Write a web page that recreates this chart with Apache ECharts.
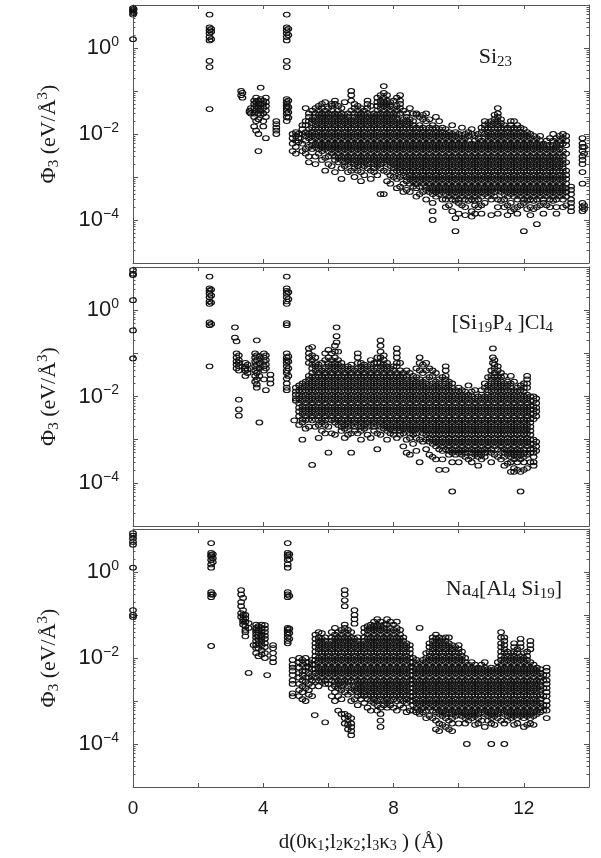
<!DOCTYPE html>
<html><head><meta charset="utf-8">
<script src="https://cdn.jsdelivr.net/npm/echarts@6/dist/echarts.min.js"></script>
<style>html,body{margin:0;padding:0;background:#fff}#c{width:601px;height:858px}</style>
</head><body><div id="c"></div>
<script>
// Each column: [d (Å), Φ3 values (eV/Å^3) ...]
const si23Cols = [
[0,8.5,7.5,7,6,1.6],[0.02,8,6.5],
[2.35,6,3,2.6,2.2,1.8,1.5,0.5,0.36,0.038],[2.4,2.8,2.4,1.6],
[3.32,0.1,0.08],[3.36,0.09,0.07],[3.58,0.035,0.032],[3.62,0.03,0.04],
[3.72,0.06,0.05,0.04,0.03,0.025,0.015],[3.78,0.07,0.055,0.045,0.035,0.02,0.012],
[3.85,0.06,0.05,0.04,0.03,0.022,0.01,0.004],[3.92,0.12,0.065,0.05,0.035,0.028],
[4.0,0.06,0.05,0.04,0.03,0.02,0.015],[4.08,0.07,0.055,0.045,0.035,0.025,0.008],
[4.4,0.02,0.017,0.014,0.012,0.01],
[4.72,6,3,2.6,2.2,1.8,1.5,0.5,0.36,0.065,0.055,0.05,0.045,0.04,0.035,0.03,0.025,0.02],
[4.77,2.8,2.0,0.06,0.042,0.032,0.024],
[4.9,0.01,0.008,0.006,0.004],[5.0,0.011,0.009,0.007,0.005,0.0035],[5.08,0.01,0.008,0.0065],
[5.2,1.6e-2,1.3e-2,1e-2,6e-3,4e-3],
[5.3,4e-2,2e-2,1.6e-2,1.1e-2,9e-3,7e-3,4.5e-3,3.5e-3],
[5.4,3e-2,2.5e-2,2e-2,1.3e-2,1e-2,8e-3,5e-3,3e-3,2.2e-3],
[5.5,3.5e-2,2.2e-2,1.8e-2,1.4e-2,1.1e-2,9e-3,7e-3,5.5e-3,4.5e-3],
[5.6,4e-2,3e-2,2.5e-2,2e-2,1.6e-2,1.3e-2,1e-2,8e-3,6e-3,5e-3,3e-3,2e-3],
[5.7,4.5e-2,3.5e-2,2.8e-2,2.2e-2,1.8e-2,1.4e-2,1.1e-2,9e-3,7e-3,5.5e-3,4.5e-3,3.5e-3],
[5.8,5e-2,4e-2,3e-2,2.5e-2,2e-2,1.6e-2,1.3e-2,1e-2,8e-3,6e-3,5e-3,4e-3,2.5e-3],
[5.9,5.5e-2,3.5e-2,2.8e-2,2.2e-2,1.8e-2,1.4e-2,1.1e-2,9e-3,7e-3,5.5e-3,4.5e-3,2.8e-3,1.4e-3],
[6.0,4e-2,3e-2,2.5e-2,2e-2,1.6e-2,1.3e-2,1e-2,8e-3,6e-3,5e-3,4e-3,3e-3,2e-3],
[6.1,5e-2,4.5e-2,3.5e-2,2.8e-2,2.2e-2,1.8e-2,1.4e-2,1.1e-2,9e-3,7e-3,5.5e-3,4.5e-3,3.5e-3,1.8e-3],
[6.2,6e-2,5e-2,3e-2,2.5e-2,2e-2,1.6e-2,1.3e-2,1e-2,8e-3,6e-3,5e-3,4e-3,3e-3,2.5e-3,1.3e-3],
[6.3,4.5e-2,3.5e-2,2.8e-2,2.2e-2,1.8e-2,1.4e-2,1.1e-2,9e-3,7e-3,5.5e-3,4.5e-3,3.5e-3,2.8e-3,2.2e-3],
[6.4,4e-2,3e-2,2.5e-2,2e-2,1.6e-2,1.3e-2,1e-2,8e-3,6e-3,5e-3,4e-3,3e-3,2.5e-3,1.6e-3,9e-4],
[6.5,5.5e-2,2.8e-2,2.2e-2,1.8e-2,1.4e-2,1.1e-2,9e-3,7e-3,5.5e-3,4.5e-3,3.5e-3,2.8e-3,2.2e-3,1.8e-3],
[6.6,3e-2,2.5e-2,2e-2,1.6e-2,1.3e-2,1e-2,8e-3,6e-3,5e-3,4e-3,3e-3,2.5e-3,2e-3,1.3e-3],
[6.7,1e-1,8e-2,6e-2,3.5e-2,2.2e-2,1.8e-2,1.4e-2,1.1e-2,9e-3,7e-3,5.5e-3,4.5e-3,3.5e-3,2.8e-3,2.2e-3,1.4e-3],
[6.8,5e-2,4e-2,3e-2,2.5e-2,2e-2,1.6e-2,1.3e-2,1e-2,8e-3,6e-3,5e-3,4e-3,3e-3,2.5e-3,2e-3,1.6e-3,1e-3],
[6.9,4.5e-2,3.5e-2,2.8e-2,2.2e-2,1.8e-2,1.4e-2,1.1e-2,9e-3,7e-3,5.5e-3,4.5e-3,3.5e-3,2.8e-3,2.2e-3,1.8e-3,1.4e-3],
[7.0,4e-2,3e-2,2.5e-2,2e-2,1.6e-2,1.3e-2,1e-2,8e-3,6e-3,5e-3,4e-3,3e-3,2.5e-3,2e-3,1.3e-3,8e-4],
[7.1,3.5e-2,2.8e-2,2.2e-2,1.8e-2,1.4e-2,1.1e-2,9e-3,7e-3,5.5e-3,4.5e-3,3.5e-3,2.8e-3,2.2e-3,1.8e-3,1.1e-3],
[7.2,6e-2,5e-2,4e-2,3e-2,2.5e-2,2e-2,1.6e-2,1.3e-2,1e-2,8e-3,6e-3,5e-3,4e-3,3e-3,2.5e-3,2e-3,1.6e-3],
[7.3,4.5e-2,2.8e-2,2.2e-2,1.8e-2,1.4e-2,1.1e-2,9e-3,7e-3,5.5e-3,4.5e-3,3.5e-3,2.8e-3,2.2e-3,1.4e-3,9e-4],
[7.4,3e-2,2.5e-2,2e-2,1.6e-2,1.3e-2,1e-2,8e-3,6e-3,5e-3,4e-3,3e-3,2.5e-3,2e-3,1.6e-3,1.3e-3],
[7.5,7e-2,5.5e-2,4.5e-2,3.5e-2,2.8e-2,2.2e-2,1.8e-2,1.4e-2,1.1e-2,9e-3,7e-3,5.5e-3,4.5e-3,3.5e-3,2.8e-3,2.2e-3,1.8e-3,1.1e-3],
[7.6,8e-2,6e-2,5e-2,4e-2,3e-2,2.5e-2,2e-2,1.6e-2,1.3e-2,1e-2,8e-3,6e-3,5e-3,4e-3,3e-3,2.5e-3,2e-3,1.6e-3,4e-4],
[7.7,1.3e-1,9e-2,7e-2,5.5e-2,4.5e-2,3.5e-2,2.8e-2,2.2e-2,1.8e-2,1.4e-2,1.1e-2,9e-3,7e-3,5.5e-3,4.5e-3,3.5e-3,2.8e-3,2.2e-3,1.4e-3,4e-4],
[7.8,8e-2,6e-2,5e-2,4e-2,3e-2,2.5e-2,2e-2,1.6e-2,1.3e-2,1e-2,8e-3,6e-3,5e-3,4e-3,3e-3,2.5e-3,2e-3,1.3e-3,8e-4],
[7.9,5.5e-2,4.5e-2,3.5e-2,2.8e-2,2.2e-2,1.8e-2,1.4e-2,1.1e-2,9e-3,7e-3,5.5e-3,4.5e-3,3.5e-3,2.8e-3,2.2e-3,1.8e-3,1.1e-3,7e-4],
[8.0,6e-2,4e-2,3e-2,2.5e-2,2e-2,1.6e-2,1.3e-2,1e-2,8e-3,6e-3,5e-3,4e-3,3e-3,2.5e-3,2e-3,1.6e-3,1.3e-3,1e-3],
[8.1,7e-2,4.5e-2,3.5e-2,2.8e-2,2.2e-2,1.8e-2,1.4e-2,1.1e-2,9e-3,7e-3,5.5e-3,4.5e-3,3.5e-3,2.8e-3,2.2e-3,1.8e-3,1.4e-3,9e-4,5.5e-4],
[8.2,8e-2,6e-2,5e-2,4e-2,3e-2,2e-2,1.6e-2,1.3e-2,1e-2,8e-3,6e-3,5e-3,4e-3,3e-3,2.5e-3,2e-3,1.6e-3,1.3e-3,1e-3,6e-4],
[8.3,3.5e-2,2.2e-2,1.8e-2,1.4e-2,1.1e-2,9e-3,7e-3,5.5e-3,4.5e-3,3.5e-3,2.8e-3,2.2e-3,1.8e-3,1.4e-3,1.1e-3,7e-4,4.5e-4],
[8.4,3e-2,2.5e-2,2e-2,1.6e-2,1.3e-2,1e-2,8e-3,6e-3,5e-3,4e-3,3e-3,2.5e-3,2e-3,1.6e-3,1.3e-3,1e-3,8e-4,5e-4],
[8.5,4e-2,2.2e-2,1.8e-2,1.4e-2,1.1e-2,9e-3,7e-3,5.5e-3,4.5e-3,3.5e-3,2.8e-3,2.2e-3,1.8e-3,1.4e-3,1.1e-3,9e-4,7e-4,4.5e-4],
[8.6,3e-2,2e-2,1.6e-2,1.3e-2,1e-2,8e-3,6e-3,5e-3,4e-3,3e-3,2.5e-3,2e-3,1.6e-3,1.3e-3,1e-3,8e-4,6e-4],
[8.7,3e-2,2.8e-2,1.4e-2,1.1e-2,9e-3,7e-3,5.5e-3,4.5e-3,3.5e-3,2.8e-3,2.2e-3,1.8e-3,1.4e-3,1.1e-3,9e-4,7e-4,5.5e-4,3.5e-4],
[8.8,2.5e-2,1.6e-2,1.3e-2,1e-2,8e-3,6e-3,5e-3,4e-3,3e-3,2.5e-3,2e-3,1.6e-3,1.3e-3,1e-3,8e-4,6e-4,4e-4],
[8.9,2.8e-2,2.2e-2,1.4e-2,1.1e-2,9e-3,7e-3,5.5e-3,4.5e-3,3.5e-3,2.8e-3,2.2e-3,1.8e-3,1.4e-3,1.1e-3,9e-4,7e-4,4.5e-4],
[9.0,3e-2,2e-2,1.3e-2,1e-2,8e-3,6e-3,5e-3,4e-3,3e-3,2.5e-3,2e-3,1.6e-3,1.3e-3,1e-3,8e-4,6e-4,5e-4,3e-4],
[9.1,2.2e-2,1.4e-2,1.1e-2,9e-3,7e-3,5.5e-3,4.5e-3,3.5e-3,2.8e-3,2.2e-3,1.8e-3,1.4e-3,1.1e-3,9e-4,7e-4,5.5e-4,4.5e-4],
[9.2,1.6e-2,1.3e-2,1e-2,8e-3,6e-3,5e-3,4e-3,3e-3,2.5e-3,2e-3,1.6e-3,1.3e-3,1e-3,8e-4,6e-4,5e-4,4e-4,2.5e-4,1.6e-4,1e-4],
[9.3,2.5e-2,1.4e-2,1.1e-2,9e-3,7e-3,5.5e-3,4.5e-3,3.5e-3,2.8e-3,2.2e-3,1.8e-3,1.4e-3,1.1e-3,9e-4,7e-4,5.5e-4,4.5e-4,3.5e-4],
[9.4,2e-2,1.3e-2,1e-2,8e-3,6e-3,5e-3,4e-3,3e-3,2.5e-3,2e-3,1.6e-3,1.3e-3,1e-3,8e-4,6e-4,5e-4,4e-4],
[9.5,1.4e-2,1.1e-2,9e-3,7e-3,5.5e-3,4.5e-3,3.5e-3,2.8e-3,2.2e-3,1.8e-3,1.4e-3,1.1e-3,9e-4,7e-4,5.5e-4,4.5e-4,3e-4],
[9.6,1.3e-2,1e-2,8e-3,6e-3,5e-3,4e-3,3e-3,2.5e-3,2e-3,1.6e-3,1.3e-3,1e-3,8e-4,6e-4,5e-4,4e-4,3e-4,2e-4],
[9.7,1.1e-2,9e-3,7e-3,5.5e-3,4.5e-3,3.5e-3,2.8e-3,2.2e-3,1.8e-3,1.4e-3,1.1e-3,9e-4,7e-4,5.5e-4,4.5e-4,3.5e-4,2.2e-4],
[9.8,1.6e-2,1e-2,8e-3,6e-3,5e-3,4e-3,3e-3,2.5e-3,2e-3,1.6e-3,1.3e-3,1e-3,8e-4,6e-4,5e-4,4e-4,3e-4,1.6e-4],
[9.9,1.1e-2,9e-3,7e-3,5.5e-3,4.5e-3,3.5e-3,2.8e-3,2.2e-3,1.8e-3,1.4e-3,1.1e-3,9e-4,7e-4,5.5e-4,4.5e-4,3.5e-4,2.8e-4,1.1e-4,5.5e-5],
[10.0,1e-2,8e-3,6e-3,5e-3,4e-3,3e-3,2.5e-3,2e-3,1.6e-3,1.3e-3,1e-3,8e-4,6e-4,5e-4,4e-4,3e-4,2.5e-4,1.4e-4],
[10.1,1.4e-2,9e-3,7e-3,5.5e-3,4.5e-3,3.5e-3,2.8e-3,2.2e-3,1.8e-3,1.4e-3,1.1e-3,9e-4,7e-4,5.5e-4,4.5e-4,3.5e-4,2.2e-4],
[10.2,1e-2,8e-3,6e-3,5e-3,4e-3,3e-3,2.5e-3,2e-3,1.6e-3,1.3e-3,1e-3,8e-4,6e-4,5e-4,4e-4,3e-4,2e-4,1.3e-4],
[10.3,1.1e-2,9e-3,7e-3,5.5e-3,4.5e-3,3.5e-3,2.8e-3,2.2e-3,1.8e-3,1.4e-3,1.1e-3,9e-4,7e-4,5.5e-4,4.5e-4,3.5e-4,2.8e-4],
[10.4,1.3e-2,1e-2,6e-3,5e-3,4e-3,3e-3,2.5e-3,2e-3,1.6e-3,1.3e-3,1e-3,8e-4,6e-4,5e-4,4e-4,3e-4,1.6e-4,1.2e-4],
[10.5,9e-3,7e-3,5.5e-3,4.5e-3,3.5e-3,2.8e-3,2.2e-3,1.8e-3,1.4e-3,1.1e-3,9e-4,7e-4,5.5e-4,4.5e-4,3.5e-4,2.8e-4,2.2e-4,1.4e-4],
[10.6,1e-2,8e-3,6e-3,5e-3,4e-3,3e-3,2.5e-3,2e-3,1.6e-3,1.3e-3,1e-3,8e-4,6e-4,5e-4,4e-4,3e-4,2e-4],
[10.7,1.4e-2,1.1e-2,7e-3,5.5e-3,4.5e-3,3.5e-3,2.8e-3,2.2e-3,1.8e-3,1.4e-3,1.1e-3,9e-4,7e-4,5.5e-4,4.5e-4,3.5e-4,2.2e-4,1.4e-4],
[10.8,2e-2,1.6e-2,1.3e-2,1e-2,8e-3,6e-3,5e-3,4e-3,3e-3,2.5e-3,2e-3,1.6e-3,1.3e-3,1e-3,8e-4,6e-4,5e-4,4e-4,2.5e-4],
[10.9,1.8e-2,1.4e-2,1.1e-2,9e-3,7e-3,5.5e-3,4.5e-3,3.5e-3,2.8e-3,2.2e-3,1.8e-3,1.4e-3,1.1e-3,9e-4,7e-4,5.5e-4,4.5e-4,3.5e-4],
[11.0,2e-2,1.6e-2,1.3e-2,1e-2,8e-3,6e-3,5e-3,4e-3,3e-3,2.5e-3,2e-3,1.6e-3,1.3e-3,1e-3,8e-4,6e-4,5e-4,4e-4,3e-4,1.3e-4],
[11.1,2.8e-2,2.2e-2,1.8e-2,1.4e-2,1.1e-2,9e-3,7e-3,5.5e-3,4.5e-3,3.5e-3,2.8e-3,2.2e-3,1.8e-3,1.4e-3,1.1e-3,9e-4,7e-4,5.5e-4,4.5e-4,3.5e-4],
[11.2,4e-2,3e-2,2.5e-2,2e-2,1.6e-2,1.3e-2,1e-2,8e-3,6e-3,5e-3,4e-3,3e-3,2.5e-3,2e-3,1.6e-3,1.3e-3,1e-3,8e-4,6e-4,5e-4,3e-4,2e-4,1.4e-4],
[11.3,2.2e-2,1.8e-2,1.4e-2,1.1e-2,9e-3,7e-3,5.5e-3,4.5e-3,3.5e-3,2.8e-3,2.2e-3,1.8e-3,1.4e-3,1.1e-3,9e-4,7e-4,5.5e-4,4.5e-4,2.8e-4],
[11.4,1.6e-2,1.3e-2,1e-2,8e-3,6e-3,5e-3,4e-3,3e-3,2.5e-3,2e-3,1.6e-3,1.3e-3,1e-3,8e-4,6e-4,5e-4,4e-4,3e-4,2e-4],
[11.5,1.4e-2,1.1e-2,9e-3,7e-3,5.5e-3,4.5e-3,3.5e-3,2.8e-3,2.2e-3,1.8e-3,1.4e-3,1.1e-3,9e-4,7e-4,5.5e-4,4.5e-4,3.5e-4,2.2e-4,1.3e-4],
[11.6,2e-2,1.6e-2,1.3e-2,1e-2,8e-3,6e-3,5e-3,4e-3,3e-3,2.5e-3,2e-3,1.6e-3,1.3e-3,1e-3,8e-4,6e-4,5e-4,4e-4,2.5e-4,1.6e-4],
[11.7,2e-2,1.4e-2,1.1e-2,9e-3,7e-3,5.5e-3,4.5e-3,3.5e-3,2.8e-3,2.2e-3,1.8e-3,1.4e-3,1.1e-3,9e-4,7e-4,5.5e-4,4.5e-4,3.5e-4,1.8e-4],
[11.8,1.6e-2,1.3e-2,1e-2,8e-3,6e-3,5e-3,4e-3,3e-3,2.5e-3,2e-3,1.6e-3,1.3e-3,1e-3,8e-4,6e-4,5e-4,4e-4,3e-4,2e-4,1.4e-4],
[11.9,1.4e-2,1.1e-2,9e-3,7e-3,5.5e-3,4.5e-3,3.5e-3,2.8e-3,2.2e-3,1.8e-3,1.4e-3,1.1e-3,9e-4,7e-4,5.5e-4,4.5e-4,3.5e-4,2.2e-4],
[12.0,1.3e-2,1e-2,8e-3,6e-3,5e-3,4e-3,3e-3,2.5e-3,2e-3,1.6e-3,1.3e-3,1e-3,8e-4,6e-4,5e-4,4e-4,3e-4,2.5e-4,5.5e-5],
[12.1,1.1e-2,9e-3,7e-3,5.5e-3,4.5e-3,3.5e-3,2.8e-3,2.2e-3,1.8e-3,1.4e-3,1.1e-3,9e-4,7e-4,5.5e-4,4.5e-4,3.5e-4,2.8e-4,1.8e-4],
[12.2,1e-2,8e-3,6e-3,5e-3,4e-3,3e-3,2.5e-3,2e-3,1.6e-3,1.3e-3,1e-3,8e-4,6e-4,5e-4,4e-4,3e-4,2e-4,1.3e-4],
[12.3,9e-3,7e-3,5.5e-3,4.5e-3,3.5e-3,2.8e-3,2.2e-3,1.8e-3,1.4e-3,1.1e-3,9e-4,7e-4,5.5e-4,4.5e-4,3.5e-4,2.8e-4,1.8e-4],
[12.4,8e-3,6e-3,5e-3,4e-3,3e-3,2.5e-3,2e-3,1.6e-3,1.3e-3,1e-3,8e-4,6e-4,5e-4,4e-4,3e-4,2e-4,8e-5],
[12.5,9e-3,7e-3,5.5e-3,4.5e-3,3.5e-3,2.8e-3,2.2e-3,1.8e-3,1.4e-3,1.1e-3,9e-4,7e-4,5.5e-4,4.5e-4,3.5e-4,2.2e-4],
[12.6,6e-3,5e-3,4e-3,3e-3,2.5e-3,2e-3,1.6e-3,1.3e-3,1e-3,8e-4,6e-4,5e-4,4e-4,3e-4,2.5e-4,1.4e-4],
[12.7,7e-3,5.5e-3,4.5e-3,3.5e-3,2.8e-3,2.2e-3,1.8e-3,1.4e-3,1.1e-3,9e-4,7e-4,5.5e-4,4.5e-4,3.5e-4,2.2e-4],
[12.8,8e-3,5e-3,4e-3,3e-3,2.5e-3,2e-3,1.6e-3,1.3e-3,1e-3,8e-4,6e-4,5e-4,4e-4,3e-4,2e-4],
[12.9,1e-2,7e-3,5.5e-3,4.5e-3,3.5e-3,2.8e-3,2.2e-3,1.8e-3,1.4e-3,1.1e-3,9e-4,7e-4,5.5e-4,4.5e-4,3.5e-4,2.8e-4],
[13.0,8e-3,6e-3,5e-3,4e-3,3e-3,2.5e-3,2e-3,1.6e-3,1.3e-3,1e-3,8e-4,6e-4,5e-4,4e-4,3e-4,2e-4,1.4e-4],
[13.1,9e-3,7e-3,5.5e-3,4.5e-3,3.5e-3,2.8e-3,2.2e-3,1.8e-3,1.4e-3,1.1e-3,9e-4,7e-4,5.5e-4,4.5e-4,3.5e-4],
[13.2,1e-2,8e-3,6e-3,4e-3,3e-3,2.5e-3,2e-3,1.6e-3,1.3e-3,1e-3,8e-4,6e-4,5e-4,4e-4,3e-4,2e-4],
[13.3,9e-3,7e-3,5.5e-3,3.5e-3,2.2e-3,1.4e-3,1.1e-3,9e-4,7e-4,5.5e-4,4.5e-4,3.5e-4,2.2e-4],
[13.45,6e-4,5e-4,4e-4,3e-4,2.5e-4,2e-4,1.6e-4],
[13.8,8e-3,6e-3,5e-3,4e-3,3e-3,2.5e-3,2e-3,1.3e-3,7e-4,2.5e-4,2e-4,1.6e-4],
[13.85,5e-3,3.5e-3,2.2e-4,1.8e-4]
];

const si19p4Cols = [
[0,8.5,7,6.5,1.7,0.34,0.076],
[2.35,6,3.2,2.8,2.4,2,1.6,1.4,0.52,0.45,0.05],[2.4,3,2.2,1.5,0.48],
[3.13,0.4,0.23],[3.18,0.19,0.1,0.08,0.065,0.055,0.045],
[3.25,0.09,0.07,0.06,0.05,0.04,0.0085,0.005,0.0036],
[3.45,0.06,0.05,0.045,0.04,0.03],[3.52,0.055,0.042,0.035],
[3.75,0.1,0.08,0.065,0.05,0.04,0.03,0.022],
[3.8,0.2,0.09,0.07,0.055,0.045,0.035,0.025,0.019,0.016],
[3.88,0.085,0.06,0.045,0.03,0.0025],
[4.02,0.1,0.08,0.065,0.05,0.04,0.025],[4.08,0.09,0.07,0.055,0.045,0.014],
[4.22,0.032,0.025,0.02],
[4.72,6,3.2,2.8,2.4,2,1.6,1.4,0.5,0.45,0.1,0.08,0.07,0.06,0.05,0.04,0.035,0.026,0.02,0.016,0.014],
[4.77,2.6,1.8,0.085,0.065,0.045,0.03],
[4.95,0.0028],[5.0,0.016,0.013,0.011,0.009,0.008],
[5.1,1.8e-2,1.4e-2,1.1e-2,9e-3,7e-3,5.5e-3,4.5e-3,3.5e-3,2.2e-3],
[5.2,2e-2,1.6e-2,1.3e-2,1e-2,8e-3,6e-3,5e-3,4e-3,3e-3,2.5e-3,1e-3],
[5.3,2.2e-2,1.8e-2,1.4e-2,1.1e-2,9e-3,7e-3,5.5e-3,4.5e-3,3.5e-3,2.8e-3,1.8e-3],
[5.4,1.3e-1,1e-1,8e-2,6e-2,3e-2,2.5e-2,2e-2,1.6e-2,1.3e-2,1e-2,8e-3,6e-3,5e-3,4e-3,3e-3,2e-3],
[5.5,1.4e-1,9e-2,7e-2,5.5e-2,4.5e-2,3.5e-2,2.8e-2,2.2e-2,1.8e-2,1.4e-2,1.1e-2,9e-3,7e-3,5.5e-3,4.5e-3,3.5e-3,2.8e-3,2.6e-4],
[5.6,8e-2,6e-2,5e-2,4e-2,3e-2,2.5e-2,2e-2,1.6e-2,1.3e-2,1e-2,8e-3,6e-3,5e-3,4e-3,3e-3,2e-3],
[5.7,5.5e-2,4.5e-2,3.5e-2,2.8e-2,2.2e-2,1.8e-2,1.4e-2,1.1e-2,9e-3,7e-3,5.5e-3,4.5e-3,3.5e-3,2.8e-3,2.2e-3,1.1e-3],
[5.8,6e-2,4e-2,3e-2,2.5e-2,2e-2,1.6e-2,1.3e-2,1e-2,8e-3,6e-3,5e-3,4e-3,3e-3,2.5e-3,1.6e-3],
[5.9,1e-1,7e-2,4.5e-2,3.5e-2,2.8e-2,2.2e-2,1.8e-2,1.4e-2,1.1e-2,9e-3,7e-3,5.5e-3,4.5e-3,3.5e-3,2.8e-3,2.2e-3,1.4e-3],
[6.0,1.2e-1,8e-2,6e-2,5e-2,4e-2,3e-2,2.5e-2,2e-2,1.6e-2,1.3e-2,1e-2,8e-3,6e-3,5e-3,4e-3,3e-3,2e-3,5e-4],
[6.1,1e-1,7e-2,5.5e-2,4.5e-2,3.5e-2,2.8e-2,2.2e-2,1.8e-2,1.4e-2,1.1e-2,9e-3,7e-3,5.5e-3,4.5e-3,3.5e-3,2.8e-3,1.4e-3],
[6.2,1.5e-1,1.1e-1,8e-2,6e-2,5e-2,4e-2,3e-2,2.5e-2,2e-2,1.6e-2,1.3e-2,1e-2,8e-3,6e-3,5e-3,4e-3,3e-3,2.5e-3,1.3e-3],
[6.25,4e-1,2.5e-1,1.8e-1],
[6.3,1.1e-1,7e-2,5.5e-2,4.5e-2,3.5e-2,2.8e-2,2.2e-2,1.8e-2,1.4e-2,1.1e-2,9e-3,7e-3,5.5e-3,4.5e-3,3.5e-3,2.8e-3,2.2e-3],
[6.4,6e-2,5e-2,4e-2,3e-2,2.5e-2,2e-2,1.6e-2,1.3e-2,1e-2,8e-3,6e-3,5e-3,4e-3,3e-3,2.5e-3,2e-3,1.6e-3],
[6.5,4.5e-2,3.5e-2,2.8e-2,2.2e-2,1.8e-2,1.4e-2,1.1e-2,9e-3,7e-3,5.5e-3,4.5e-3,3.5e-3,2.8e-3,2.2e-3,1.8e-3,1.1e-3],
[6.6,5e-2,4e-2,3e-2,2.5e-2,2e-2,1.6e-2,1.3e-2,1e-2,8e-3,6e-3,5e-3,4e-3,3e-3,2.5e-3,2e-3,1.3e-3],
[6.7,5.5e-2,4.5e-2,3.5e-2,2.8e-2,2.2e-2,1.8e-2,1.4e-2,1.1e-2,9e-3,7e-3,5.5e-3,4.5e-3,3.5e-3,2.8e-3,2.2e-3,1.4e-3,5e-4],
[6.8,4e-2,3e-2,2.5e-2,2e-2,1.6e-2,1.3e-2,1e-2,8e-3,6e-3,5e-3,4e-3,3e-3,2.5e-3,2e-3,1.6e-3],
[6.9,1e-1,8e-2,6e-2,4.5e-2,3.5e-2,2.8e-2,2.2e-2,1.8e-2,1.4e-2,1.1e-2,9e-3,7e-3,5.5e-3,4.5e-3,3.5e-3,2.8e-3,2.2e-3,1.4e-3],
[7.0,6e-2,5e-2,4e-2,3e-2,2.5e-2,2e-2,1.6e-2,1.3e-2,1e-2,8e-3,6e-3,5e-3,4e-3,3e-3,2.5e-3,2e-3,1.6e-3,1e-3],
[7.1,5.5e-2,4.5e-2,3.5e-2,2.8e-2,2.2e-2,1.8e-2,1.4e-2,1.1e-2,9e-3,7e-3,5.5e-3,4.5e-3,3.5e-3,2.8e-3,2.2e-3,1.8e-3],
[7.2,5e-2,4e-2,3e-2,2.5e-2,2e-2,1.6e-2,1.3e-2,1e-2,8e-3,6e-3,5e-3,4e-3,3e-3,2.5e-3,2e-3,1.3e-3],
[7.3,7e-2,5.5e-2,4.5e-2,3.5e-2,2.8e-2,2.2e-2,1.8e-2,1.4e-2,1.1e-2,9e-3,7e-3,5.5e-3,4.5e-3,3.5e-3,2.8e-3,2.2e-3,1.1e-3],
[7.4,6e-2,4e-2,3e-2,2.5e-2,2e-2,1.6e-2,1.3e-2,1e-2,8e-3,6e-3,5e-3,4e-3,3e-3,2.5e-3,2e-3,1.6e-3],
[7.5,8e-2,6e-2,4.5e-2,3.5e-2,2.8e-2,2.2e-2,1.8e-2,1.4e-2,1.1e-2,9e-3,7e-3,5.5e-3,4.5e-3,3.5e-3,2.8e-3,2.2e-3,1.4e-3,6e-4],
[7.6,2e-1,1.5e-1,1.1e-1,8e-2,6e-2,5e-2,4e-2,3e-2,2.5e-2,2e-2,1.6e-2,1.3e-2,1e-2,8e-3,6e-3,5e-3,4e-3,3e-3,2.5e-3,2e-3,1.3e-3],
[7.7,9e-2,7e-2,5.5e-2,4.5e-2,3.5e-2,2.8e-2,2.2e-2,1.8e-2,1.4e-2,1.1e-2,9e-3,7e-3,5.5e-3,4.5e-3,3.5e-3,2.8e-3,2.2e-3,1.8e-3],
[7.8,6e-2,5e-2,4e-2,3e-2,2.5e-2,2e-2,1.6e-2,1.3e-2,1e-2,8e-3,6e-3,5e-3,4e-3,3e-3,2.5e-3,2e-3,1.6e-3,1e-3],
[7.9,4.5e-2,3.5e-2,2.8e-2,2.2e-2,1.8e-2,1.4e-2,1.1e-2,9e-3,7e-3,5.5e-3,4.5e-3,3.5e-3,2.8e-3,2.2e-3,1.8e-3,1.4e-3],
[8.0,5e-2,4e-2,3e-2,2.5e-2,2e-2,1.6e-2,1.3e-2,1e-2,8e-3,6e-3,5e-3,4e-3,3e-3,2.5e-3,2e-3,1.6e-3,1.3e-3],
[8.1,1.3e-1,1e-1,8e-2,6e-2,5e-2,3.5e-2,2.8e-2,2.2e-2,1.8e-2,1.4e-2,1.1e-2,9e-3,7e-3,5.5e-3,4.5e-3,3.5e-3,2.8e-3,2.2e-3,1.8e-3,1.1e-3],
[8.2,6e-2,4e-2,3e-2,2.5e-2,2e-2,1.6e-2,1.3e-2,1e-2,8e-3,6e-3,5e-3,4e-3,3e-3,2.5e-3,2e-3,1.6e-3,1.3e-3],
[8.3,3.5e-2,2.8e-2,2.2e-2,1.8e-2,1.4e-2,1.1e-2,9e-3,7e-3,5.5e-3,4.5e-3,3.5e-3,2.8e-3,2.2e-3,1.8e-3,1.4e-3,7e-4],
[8.4,4e-2,3e-2,2.5e-2,2e-2,1.6e-2,1.3e-2,1e-2,8e-3,6e-3,5e-3,4e-3,3e-3,2.5e-3,2e-3,1.6e-3,1e-3,5e-4],
[8.5,3.5e-2,2.2e-2,1.8e-2,1.4e-2,1.1e-2,9e-3,7e-3,5.5e-3,4.5e-3,3.5e-3,2.8e-3,2.2e-3,1.8e-3,1.4e-3,1.1e-3,4.5e-4],
[8.6,3e-2,2.5e-2,2e-2,1.6e-2,1.3e-2,1e-2,8e-3,6e-3,5e-3,4e-3,3e-3,2.5e-3,2e-3,1.6e-3,1.3e-3,8e-4],
[8.7,4.5e-2,2.8e-2,2.2e-2,1.8e-2,1.4e-2,1.1e-2,9e-3,7e-3,5.5e-3,4.5e-3,3.5e-3,2.8e-3,2.2e-3,1.8e-3,1.4e-3,1.1e-3,5.5e-4],
[8.8,8e-2,6e-2,4e-2,2.5e-2,2e-2,1.6e-2,1.3e-2,1e-2,8e-3,6e-3,5e-3,4e-3,3e-3,2.5e-3,2e-3,1.6e-3,1e-3,3e-4],
[8.9,5.5e-2,3.5e-2,2.2e-2,1.8e-2,1.4e-2,1.1e-2,9e-3,7e-3,5.5e-3,4.5e-3,3.5e-3,2.8e-3,2.2e-3,1.8e-3,1.4e-3,9e-4],
[9.0,6e-2,4e-2,2.5e-2,2e-2,1.6e-2,1.3e-2,1e-2,8e-3,6e-3,5e-3,4e-3,3e-3,2.5e-3,2e-3,1.6e-3,1.3e-3,1e-3,6e-4],
[9.1,4.5e-2,2.8e-2,1.8e-2,1.4e-2,1.1e-2,9e-3,7e-3,5.5e-3,4.5e-3,3.5e-3,2.8e-3,2.2e-3,1.8e-3,1.4e-3,1.1e-3,9e-4,4.5e-4],
[9.2,4e-2,3e-2,2e-2,1.6e-2,1.3e-2,1e-2,8e-3,6e-3,5e-3,4e-3,3e-3,2.5e-3,2e-3,1.6e-3,1.3e-3,1e-3,8e-4,4e-4],
[9.3,3.5e-2,2.2e-2,1.8e-2,1.4e-2,1.1e-2,9e-3,7e-3,5.5e-3,4.5e-3,3.5e-3,2.8e-3,2.2e-3,1.8e-3,1.4e-3,1.1e-3,9e-4,7e-4,3.5e-4],
[9.4,2.5e-2,2e-2,1.6e-2,1.3e-2,1e-2,8e-3,6e-3,5e-3,4e-3,3e-3,2.5e-3,2e-3,1.6e-3,1.3e-3,1e-3,8e-4,6e-4,2e-4],
[9.5,2.8e-2,1.8e-2,1.4e-2,1.1e-2,9e-3,7e-3,5.5e-3,4.5e-3,3.5e-3,2.8e-3,2.2e-3,1.8e-3,1.4e-3,1.1e-3,9e-4,7e-4,5.5e-4,3.5e-4],
[9.6,5e-2,4e-2,3e-2,2.5e-2,2e-2,1.6e-2,1.3e-2,1e-2,8e-3,6e-3,5e-3,4e-3,3e-3,2.5e-3,2e-3,1.6e-3,1.3e-3,1e-3,8e-4,6e-4,2e-4],
[9.7,2.2e-2,1.8e-2,1.4e-2,1.1e-2,9e-3,7e-3,5.5e-3,4.5e-3,3.5e-3,2.8e-3,2.2e-3,1.8e-3,1.4e-3,1.1e-3,9e-4,7e-4,5.5e-4,4.5e-4],
[9.8,2e-2,1.6e-2,1.3e-2,1e-2,8e-3,6e-3,5e-3,4e-3,3e-3,2.5e-3,2e-3,1.6e-3,1.3e-3,1e-3,8e-4,6e-4,5e-4,3e-4,6.3e-5],
[9.9,1.4e-2,1.1e-2,9e-3,7e-3,5.5e-3,4.5e-3,3.5e-3,2.8e-3,2.2e-3,1.8e-3,1.4e-3,1.1e-3,9e-4,7e-4,5.5e-4,4.5e-4],
[10.0,1.6e-2,1.3e-2,1e-2,8e-3,6e-3,5e-3,4e-3,3e-3,2.5e-3,2e-3,1.6e-3,1.3e-3,1e-3,8e-4,6e-4,5e-4,3e-4],
[10.1,1.4e-2,1.1e-2,9e-3,7e-3,5.5e-3,4.5e-3,3.5e-3,2.8e-3,2.2e-3,1.8e-3,1.4e-3,1.1e-3,9e-4,7e-4,5.5e-4,4.5e-4],
[10.2,1.3e-2,1e-2,8e-3,6e-3,5e-3,4e-3,3e-3,2.5e-3,2e-3,1.6e-3,1.3e-3,1e-3,8e-4,6e-4,5e-4,4e-4],
[10.3,1.8e-2,1.1e-2,9e-3,7e-3,5.5e-3,4.5e-3,3.5e-3,2.8e-3,2.2e-3,1.8e-3,1.4e-3,1.1e-3,9e-4,7e-4,5.5e-4,3.5e-4],
[10.4,1.3e-2,1e-2,8e-3,6e-3,5e-3,4e-3,3e-3,2.5e-3,2e-3,1.6e-3,1.3e-3,1e-3,8e-4,6e-4,5e-4,4e-4,3e-4],
[10.5,1.4e-2,9e-3,7e-3,5.5e-3,4.5e-3,3.5e-3,2.8e-3,2.2e-3,1.8e-3,1.4e-3,1.1e-3,9e-4,7e-4,5.5e-4,4.5e-4],
[10.6,1e-2,8e-3,6e-3,5e-3,4e-3,3e-3,2.5e-3,2e-3,1.6e-3,1.3e-3,1e-3,8e-4,6e-4,5e-4,4e-4,2.5e-4],
[10.7,1.4e-2,1.1e-2,9e-3,7e-3,5.5e-3,4.5e-3,3.5e-3,2.8e-3,2.2e-3,1.8e-3,1.4e-3,1.1e-3,9e-4,7e-4,5.5e-4,4.5e-4,3.5e-4],
[10.8,2e-2,1.6e-2,1e-2,8e-3,6e-3,5e-3,4e-3,3e-3,2.5e-3,2e-3,1.6e-3,1.3e-3,1e-3,8e-4,6e-4,5e-4,4e-4],
[10.9,2.8e-2,1.8e-2,1.4e-2,1.1e-2,9e-3,7e-3,5.5e-3,4.5e-3,3.5e-3,2.8e-3,2.2e-3,1.8e-3,1.4e-3,1.1e-3,9e-4,7e-4,5.5e-4],
[11.0,4e-2,3e-2,2.5e-2,2e-2,1.6e-2,1.3e-2,1e-2,8e-3,6e-3,5e-3,4e-3,3e-3,2.5e-3,2e-3,1.6e-3,1.3e-3,1e-3,8e-4,6e-4,5e-4,3e-4],
[11.05,1.3e-1,8e-2,6e-2],
[11.1,7e-2,5.5e-2,4.5e-2,3.5e-2,2.8e-2,2.2e-2,1.8e-2,1.4e-2,1.1e-2,9e-3,7e-3,5.5e-3,4.5e-3,3.5e-3,2.8e-3,2.2e-3,1.8e-3,1.4e-3,1.1e-3,9e-4,7e-4,4.5e-4],
[11.2,5e-2,4e-2,3e-2,2.5e-2,2e-2,1.6e-2,1.3e-2,1e-2,8e-3,6e-3,5e-3,4e-3,3e-3,2.5e-3,2e-3,1.6e-3,1.3e-3,1e-3,8e-4,6e-4,4e-4],
[11.3,3.5e-2,2.8e-2,2.2e-2,1.8e-2,1.4e-2,1.1e-2,9e-3,7e-3,5.5e-3,4.5e-3,3.5e-3,2.8e-3,2.2e-3,1.8e-3,1.4e-3,1.1e-3,9e-4,7e-4,5.5e-4,3.5e-4],
[11.4,3e-2,2e-2,1.6e-2,1.3e-2,1e-2,8e-3,6e-3,5e-3,4e-3,3e-3,2.5e-3,2e-3,1.6e-3,1.3e-3,1e-3,8e-4,6e-4,5e-4,4e-4,2.5e-4],
[11.5,2.2e-2,1.8e-2,1.4e-2,1.1e-2,9e-3,7e-3,5.5e-3,4.5e-3,3.5e-3,2.8e-3,2.2e-3,1.8e-3,1.4e-3,1.1e-3,9e-4,7e-4,5.5e-4,4.5e-4,2.8e-4],
[11.6,3e-2,2e-2,1.6e-2,1.3e-2,1e-2,8e-3,6e-3,5e-3,4e-3,3e-3,2.5e-3,2e-3,1.6e-3,1.3e-3,1e-3,8e-4,6e-4,5e-4,4e-4,3e-4,1.8e-4],
[11.7,2.2e-2,1.4e-2,1.1e-2,9e-3,7e-3,5.5e-3,4.5e-3,3.5e-3,2.8e-3,2.2e-3,1.8e-3,1.4e-3,1.1e-3,9e-4,7e-4,5.5e-4,4.5e-4,3.5e-4,2.2e-4,1.8e-4],
[11.8,1.6e-2,1.3e-2,1e-2,8e-3,6e-3,5e-3,4e-3,3e-3,2.5e-3,2e-3,1.6e-3,1.3e-3,1e-3,8e-4,6e-4,5e-4,4e-4,3e-4,2e-4],
[11.9,1.8e-2,1.4e-2,1.1e-2,9e-3,7e-3,5.5e-3,4.5e-3,3.5e-3,2.8e-3,2.2e-3,1.8e-3,1.4e-3,1.1e-3,9e-4,7e-4,5.5e-4,4.5e-4,3.5e-4,1.8e-4,6.3e-5],
[12.0,2e-2,1.6e-2,1.3e-2,1e-2,8e-3,6e-3,5e-3,4e-3,3e-3,2.5e-3,2e-3,1.6e-3,1.3e-3,1e-3,8e-4,6e-4,5e-4,4e-4,3e-4,2e-4],
[12.1,3e-2,2.5e-2,2e-2,1.6e-2,1.1e-2,9e-3,7e-3,5.5e-3,4.5e-3,3.5e-3,2.8e-3,2.2e-3,1.8e-3,1.4e-3,1.1e-3,9e-4,7e-4,4.5e-4,2.2e-4],
[12.2,1e-2,8e-3,6e-3,5e-3,4e-3,3e-3,2.5e-3,2e-3,1.6e-3,1.3e-3,1e-3,8e-4,6e-4,5e-4,3e-4],
[12.3,1e-2,8e-3,6e-3,5e-3,4e-3,3e-3,1e-3,8e-4,6e-4,5e-4,4e-4,3e-4,2.5e-4],
[12.38,9e-3,7e-3,5.5e-3,4.5e-3,3.5e-3,9e-4,7e-4,5.5e-4]
];

const na4Cols = [
[0,8,7,6,5,4.3,1.26,0.13,0.1,0.09],
[2.4,4.7,2.8,2.5,2.3,1.9,1.5,1.26,0.34,0.3,0.26,0.019],[2.45,2.6,2.1,1.7,0.3],
[3.32,0.38,0.3,0.2,0.16,0.11,0.09],[3.38,0.25,0.13,0.1,0.08,0.07,0.06],
[3.45,0.1,0.085,0.07,0.055,0.045,0.04,0.032],[3.55,0.065,0.05,0.0045],[3.7,0.02],
[3.78,0.06,0.05,0.045,0.04,0.035,0.03,0.025,0.02,0.017,0.013],
[3.85,0.055,0.045,0.04,0.032,0.027,0.022,0.017,0.011],
[3.95,0.06,0.05,0.042,0.035,0.03,0.025,0.02,0.015,0.012],
[4.05,0.058,0.048,0.04,0.033,0.028,0.022,0.018,0.013,0.01],
[4.12,0.004],[4.3,0.02,0.017,0.013,0.01,0.008],
[4.75,4.7,2.8,2.5,2.3,1.9,1.5,1.26,0.34,0.3,0.26,0.05,0.045,0.04,0.035,0.03,0.025,0.022],
[4.8,2.6,2,0.28,0.048,0.038,0.028],
[4.9,0.009,0.007,0.006,0.005,0.004,0.003,0.0025,0.0015,0.0013],
[5.1,1e-2,8e-3,6e-3,4.5e-3,3.5e-3,2.5e-3,1.8e-3,1.3e-3],
[5.2,9e-3,7e-3,5e-3,4e-3,3e-3,2.2e-3,1.6e-3,1.1e-3],
[5.3,1e-2,8e-3,6e-3,5e-3,3.5e-3,2.8e-3,2e-3,1e-3],
[5.4,8e-3,6e-3,4.5e-3,3.5e-3,2.5e-3,1.8e-3,1.4e-3],
[5.5,9e-3,7e-3,5.5e-3,4e-3,3e-3,2.2e-3,1.3e-3],
[5.58,4.7e-4],
[5.6,3.5e-2,2.8e-2,2.2e-2,1.8e-2,1.4e-2,1.1e-2,9e-3,7e-3,5.5e-3,4.5e-3,3.5e-3,2.8e-3],
[5.7,4e-2,3e-2,2.5e-2,2e-2,1.6e-2,1.3e-2,1e-2,8e-3,6e-3,5e-3,4e-3,3e-3,2.2e-3],
[5.8,3.8e-2,2.8e-2,2.2e-2,1.8e-2,1.4e-2,1.1e-2,9e-3,7e-3,5.5e-3,4.5e-3,3.5e-3,2.8e-3],
[5.9,3e-2,2.5e-2,2e-2,1.6e-2,1.3e-2,1e-2,8e-3,6e-3,5e-3,4e-3,3e-3,2.5e-3,3.2e-4],
[6.0,2.2e-2,1.8e-2,1.4e-2,1.1e-2,9e-3,7e-3,5.5e-3,4.5e-3,3.5e-3,2.5e-3],
[6.1,4e-2,3e-2,2.5e-2,2e-2,1.6e-2,1.3e-2,1e-2,8e-3,6e-3,5e-3,4e-3,3e-3,2e-3,1.3e-3],
[6.2,5e-2,3.5e-2,2.8e-2,2.2e-2,1.8e-2,1.4e-2,1.1e-2,9e-3,7e-3,5.5e-3,4.5e-3,3.5e-3,2.8e-3,2.2e-3,1.6e-3,1e-3],
[6.3,4e-2,3e-2,2.5e-2,2e-2,1.6e-2,1.3e-2,1e-2,8e-3,6e-3,5e-3,4e-3,3e-3,2.5e-3,2e-3,1.3e-3,6e-4],
[6.4,4.5e-2,3.5e-2,2.8e-2,2.2e-2,1.8e-2,1.4e-2,1.1e-2,9e-3,7e-3,5.5e-3,4.5e-3,3.5e-3,2.8e-3,2.2e-3,1.8e-3,1.1e-3,5e-4],
[6.5,3.8e-1,3e-1,2.2e-1,1.6e-1,6e-2,5e-2,4e-2,3e-2,2.5e-2,2e-2,1.6e-2,1.3e-2,1e-2,8e-3,6e-3,5e-3,4e-3,3e-3,2.5e-3,1.6e-3,5e-4,4e-4,3e-4],
[6.6,4.5e-2,3.5e-2,2.8e-2,2.2e-2,1.8e-2,1.4e-2,1.1e-2,9e-3,7e-3,5.5e-3,4.5e-3,3.5e-3,2.8e-3,2.2e-3,1.4e-3,4.5e-4,3.5e-4,2.8e-4,2.2e-4],
[6.7,4e-2,3e-2,2.5e-2,2e-2,1.6e-2,1.3e-2,1e-2,8e-3,6e-3,5e-3,4e-3,3e-3,2e-3,1.6e-3,1e-3,4e-4,3e-4,2.5e-4,2e-4,1.6e-4],
[6.8,1.3e-1,1e-1,8e-2,6.3e-2,2.8e-2,2.2e-2,1.8e-2,1.4e-2,1.1e-2,9e-3,7e-3,5.5e-3,4.5e-3,3.5e-3,2.8e-3,2.2e-3,1.8e-3,1.1e-3],
[6.9,3e-2,2.5e-2,2e-2,1.6e-2,1.3e-2,1e-2,8e-3,6e-3,5e-3,4e-3,3e-3,2.5e-3,2e-3,1.6e-3,1.3e-3,8e-4],
[7.0,2.2e-2,1.8e-2,1.4e-2,1.1e-2,9e-3,7e-3,5.5e-3,4.5e-3,3.5e-3,2.8e-3,2.2e-3,1.8e-3,1.4e-3,1.1e-3],
[7.1,5e-2,4e-2,3e-2,2.5e-2,2e-2,1.6e-2,1.3e-2,1e-2,8e-3,6e-3,5e-3,4e-3,3e-3,2.5e-3,2e-3,1.6e-3,1.3e-3,9e-4],
[7.2,5.5e-2,4.5e-2,3.5e-2,2.8e-2,2.2e-2,1.8e-2,1.4e-2,1.1e-2,9e-3,7e-3,5.5e-3,4.5e-3,3.5e-3,2.8e-3,2.2e-3,1.8e-3,1.4e-3,1.1e-3,7e-4],
[7.3,6e-2,5e-2,4e-2,3e-2,2.5e-2,2e-2,1.6e-2,1.3e-2,1e-2,8e-3,6e-3,5e-3,4e-3,3e-3,2.5e-3,2e-3,1.6e-3,1.3e-3,1e-3,6e-4],
[7.4,7e-2,5.5e-2,4.5e-2,3.5e-2,2.8e-2,2.2e-2,1.8e-2,1.4e-2,1.1e-2,9e-3,7e-3,5.5e-3,4.5e-3,3.5e-3,2.8e-3,2.2e-3,1.8e-3,1.4e-3,1.1e-3,9e-4],
[7.5,8e-2,6e-2,5e-2,4e-2,3e-2,2.5e-2,2e-2,1.6e-2,1.3e-2,1e-2,8e-3,6e-3,5e-3,4e-3,3e-3,2.5e-3,2e-3,1.6e-3,1.3e-3,1e-3,8e-4,6e-4],
[7.6,7e-2,5.5e-2,4.5e-2,3.5e-2,2.8e-2,2.2e-2,1.8e-2,1.4e-2,1.1e-2,9e-3,7e-3,5.5e-3,4.5e-3,3.5e-3,2.8e-3,2.2e-3,1.8e-3,1.4e-3,1.1e-3,7e-4,5e-4,3.5e-4,2.5e-4],
[7.7,6e-2,5e-2,4e-2,3e-2,2.5e-2,2e-2,1.6e-2,1.3e-2,1e-2,8e-3,6e-3,5e-3,4e-3,3e-3,2.5e-3,2e-3,1.6e-3,1.3e-3,1e-3,8e-4],
[7.8,8e-2,6e-2,4.5e-2,3.5e-2,2.8e-2,2.2e-2,1.8e-2,1.4e-2,1.1e-2,9e-3,7e-3,5.5e-3,4.5e-3,3.5e-3,2.8e-3,2.2e-3,1.8e-3,1.4e-3,1.1e-3,9e-4,7e-4],
[7.9,7e-2,5e-2,4e-2,3e-2,2.5e-2,2e-2,1.6e-2,1.3e-2,1e-2,8e-3,6e-3,5e-3,4e-3,3e-3,2.5e-3,2e-3,1.6e-3,1.3e-3,1e-3,8e-4],
[8.0,6e-2,4.5e-2,3.5e-2,2.8e-2,2.2e-2,1.8e-2,1.4e-2,1.1e-2,9e-3,7e-3,5.5e-3,4.5e-3,3.5e-3,2.8e-3,2.2e-3,1.8e-3,1.4e-3,1.1e-3,7e-4],
[8.1,7e-2,5e-2,4e-2,3e-2,2.5e-2,2e-2,1.6e-2,1.3e-2,1e-2,8e-3,6e-3,5e-3,4e-3,3e-3,2.5e-3,2e-3,1.6e-3,1.3e-3,1e-3,6e-4],
[8.2,4.5e-2,3.5e-2,2.8e-2,2.2e-2,1.8e-2,1.4e-2,1.1e-2,9e-3,7e-3,5.5e-3,4.5e-3,3.5e-3,2.8e-3,2.2e-3,1.8e-3,1.4e-3,1.1e-3,8e-4],
[8.3,3e-2,2.5e-2,2e-2,1.6e-2,1.3e-2,1e-2,8e-3,6e-3,5e-3,4e-3,3e-3,2.5e-3,2e-3,1.6e-3,1.3e-3,1e-3,7e-4],
[8.4,2.2e-2,1.8e-2,1.4e-2,1.1e-2,9e-3,7e-3,5.5e-3,4.5e-3,3.5e-3,2.8e-3,2.2e-3,1.8e-3,1.4e-3,1.1e-3,9e-4,5.5e-4],
[8.5,2e-2,1.6e-2,1.3e-2,1e-2,8e-3,6e-3,5e-3,4e-3,3e-3,2.5e-3,2e-3,1.6e-3,1.3e-3,1e-3,6e-4],
[8.6,1e-2,8e-3,6e-3,5e-3,4e-3,3e-3,2.5e-3,2e-3,1.6e-3,1.3e-3,1e-3,8e-4,6e-4],
[8.7,9e-3,7e-3,5.5e-3,4.5e-3,3.5e-3,2.8e-3,2.2e-3,1.8e-3,1.4e-3,1.1e-3,9e-4,7e-4,5.5e-4],
[8.8,5e-2,8e-3,6e-3,5e-3,4e-3,3e-3,2.5e-3,2e-3,1.6e-3,1.3e-3,1e-3,8e-4,6e-4,5e-4],
[8.9,9e-3,7e-3,5.5e-3,4.5e-3,3.5e-3,2.8e-3,2.2e-3,1.8e-3,1.4e-3,1.1e-3,9e-4,7e-4,5.5e-4],
[9.0,1.3e-2,1e-2,8e-3,6e-3,5e-3,4e-3,3e-3,2.5e-3,2e-3,1.6e-3,1.3e-3,1e-3,8e-4,6e-4,4e-4],
[9.1,2.2e-2,1.8e-2,1.4e-2,1.1e-2,9e-3,7e-3,5.5e-3,4.5e-3,3.5e-3,2.8e-3,2.2e-3,1.8e-3,1.4e-3,1.1e-3,9e-4,7e-4,4.5e-4],
[9.2,3e-2,2.5e-2,2e-2,1.6e-2,1.3e-2,1e-2,8e-3,6e-3,5e-3,4e-3,3e-3,2.5e-3,2e-3,1.6e-3,1.3e-3,1e-3,8e-4,6e-4,4e-4],
[9.3,3.5e-2,2.8e-2,2.2e-2,1.8e-2,1.4e-2,1.1e-2,9e-3,7e-3,5.5e-3,4.5e-3,3.5e-3,2.8e-3,2.2e-3,1.8e-3,1.4e-3,1.1e-3,9e-4,7e-4,5.5e-4,3.5e-4,2.2e-4],
[9.4,3e-2,2.5e-2,2e-2,1.6e-2,1.3e-2,1e-2,8e-3,6e-3,5e-3,4e-3,3e-3,2.5e-3,2e-3,1.6e-3,1.3e-3,1e-3,8e-4,6e-4,5e-4,3e-4,2e-4],
[9.5,2.8e-2,2.2e-2,1.8e-2,1.4e-2,1.1e-2,9e-3,7e-3,5.5e-3,4.5e-3,3.5e-3,2.8e-3,2.2e-3,1.8e-3,1.4e-3,1.1e-3,9e-4,7e-4,5.5e-4,4.5e-4,2.8e-4],
[9.6,3e-2,2.5e-2,2e-2,1.6e-2,1.3e-2,1e-2,8e-3,6e-3,5e-3,4e-3,3e-3,2.5e-3,2e-3,1.6e-3,1.3e-3,1e-3,8e-4,6e-4,5e-4,4e-4,2.5e-4],
[9.7,3e-2,2.2e-2,1.8e-2,1.4e-2,1.1e-2,9e-3,7e-3,5.5e-3,4.5e-3,3.5e-3,2.8e-3,2.2e-3,1.8e-3,1.4e-3,1.1e-3,9e-4,7e-4,5.5e-4,3.5e-4,2.2e-4],
[9.8,2e-2,1.6e-2,1.3e-2,1e-2,8e-3,6e-3,5e-3,4e-3,3e-3,2.5e-3,2e-3,1.6e-3,1.3e-3,1e-3,8e-4,6e-4,5e-4,4e-4,3e-4,2e-4],
[9.9,1.8e-2,1.4e-2,1.1e-2,9e-3,7e-3,5.5e-3,4.5e-3,3.5e-3,2.8e-3,2.2e-3,1.8e-3,1.4e-3,1.1e-3,9e-4,7e-4,5.5e-4,4.5e-4],
[10.0,2e-2,1.6e-2,1.3e-2,1e-2,8e-3,6e-3,5e-3,4e-3,3e-3,2.5e-3,2e-3,1.6e-3,1.3e-3,1e-3,8e-4,6e-4,5e-4,3e-4],
[10.1,1.4e-2,1.1e-2,9e-3,7e-3,5.5e-3,4.5e-3,3.5e-3,2.8e-3,2.2e-3,1.8e-3,1.4e-3,1.1e-3,9e-4,7e-4,5.5e-4,4.5e-4],
[10.2,1e-2,8e-3,6e-3,5e-3,4e-3,3e-3,2.5e-3,2e-3,1.6e-3,1.3e-3,1e-3,8e-4,6e-4,5e-4,4e-4,3e-4],
[10.25,1e-4],
[10.3,7e-3,5.5e-3,4.5e-3,3.5e-3,2.8e-3,2.2e-3,1.8e-3,1.4e-3,1.1e-3,9e-4,7e-4,5.5e-4,4.5e-4,3.5e-4],
[10.4,8e-3,6e-3,5e-3,4e-3,3e-3,2.5e-3,2e-3,1.6e-3,1.3e-3,1e-3,8e-4,6e-4,5e-4,4e-4],
[10.5,7e-3,5.5e-3,4.5e-3,3.5e-3,2.8e-3,2.2e-3,1.8e-3,1.4e-3,1.1e-3,9e-4,7e-4,5.5e-4,4.5e-4,2.8e-4],
[10.6,6e-3,5e-3,4e-3,3e-3,2.5e-3,2e-3,1.6e-3,1.3e-3,1e-3,8e-4,6e-4,5e-4,4e-4,3e-4],
[10.7,7e-3,5.5e-3,4.5e-3,3.5e-3,2.8e-3,2.2e-3,1.8e-3,1.4e-3,1.1e-3,9e-4,7e-4,5.5e-4,3.5e-4],
[10.8,8e-3,6e-3,5e-3,4e-3,3e-3,2.5e-3,2e-3,1.6e-3,1.3e-3,1e-3,8e-4,6e-4,5e-4,2.5e-4],
[10.9,5.5e-3,4.5e-3,3.5e-3,2.8e-3,2.2e-3,1.8e-3,1.4e-3,1.1e-3,9e-4,7e-4,5.5e-4,4.5e-4,3.5e-4],
[11.0,6e-3,5e-3,4e-3,3e-3,2.5e-3,2e-3,1.6e-3,1.3e-3,1e-3,8e-4,6e-4,5e-4,4e-4,3e-4,1e-4],
[11.1,5.5e-3,4.5e-3,3.5e-3,2.8e-3,2.2e-3,1.8e-3,1.4e-3,1.1e-3,9e-4,7e-4,5.5e-4,4.5e-4,2.8e-4],
[11.2,8e-3,6e-3,5e-3,4e-3,3e-3,2.5e-3,2e-3,1.6e-3,1.3e-3,1e-3,8e-4,6e-4,5e-4,4e-4],
[11.3,4e-2,3e-2,2.2e-2,1.8e-2,1.4e-2,1.1e-2,9e-3,7e-3,5.5e-3,4.5e-3,3.5e-3,2.8e-3,2.2e-3,1.8e-3,1.4e-3,1.1e-3,9e-4,7e-4,5.5e-4,3.5e-4],
[11.4,3e-2,2.5e-2,2e-2,1.6e-2,1.3e-2,1e-2,8e-3,6e-3,5e-3,4e-3,3e-3,2.5e-3,2e-3,1.6e-3,1.3e-3,1e-3,8e-4,6e-4,5e-4,3e-4,1e-4],
[11.5,1.4e-2,1.1e-2,9e-3,7e-3,5.5e-3,4.5e-3,3.5e-3,2.8e-3,2.2e-3,1.8e-3,1.4e-3,1.1e-3,9e-4,7e-4,5.5e-4,4.5e-4,3.5e-4],
[11.6,1.3e-2,1e-2,8e-3,6e-3,5e-3,4e-3,3e-3,2.5e-3,2e-3,1.6e-3,1.3e-3,1e-3,8e-4,6e-4,5e-4,4e-4],
[11.7,2.2e-2,1.8e-2,1.4e-2,1.1e-2,9e-3,7e-3,5.5e-3,4.5e-3,3.5e-3,2.8e-3,2.2e-3,1.8e-3,1.4e-3,1.1e-3,9e-4,7e-4,5.5e-4,4.5e-4,2.8e-4],
[11.8,1.6e-2,1.3e-2,1e-2,8e-3,6e-3,5e-3,4e-3,3e-3,2.5e-3,2e-3,1.6e-3,1.3e-3,1e-3,8e-4,6e-4,5e-4,4e-4,3e-4],
[11.9,2.8e-2,2.2e-2,1.8e-2,1.1e-2,9e-3,7e-3,5.5e-3,4.5e-3,3.5e-3,2.8e-3,2.2e-3,1.8e-3,1.4e-3,1.1e-3,9e-4,7e-4,5.5e-4,4.5e-4],
[12.0,1.3e-2,1e-2,8e-3,6e-3,5e-3,4e-3,3e-3,2.5e-3,2e-3,1.6e-3,1.3e-3,1e-3,8e-4,6e-4,5e-4,4e-4,2.5e-4],
[12.1,1.4e-2,1.1e-2,9e-3,7e-3,5.5e-3,4.5e-3,3.5e-3,2.8e-3,2.2e-3,1.8e-3,1.4e-3,1.1e-3,9e-4,7e-4,5.5e-4,4.5e-4,2.8e-4],
[12.2,2.5e-2,2e-2,1.6e-2,8e-3,6e-3,5e-3,4e-3,3e-3,2.5e-3,2e-3,1.6e-3,1.3e-3,1e-3,8e-4,6e-4,5e-4,4e-4,3e-4],
[12.3,7e-3,5.5e-3,4.5e-3,3.5e-3,2.8e-3,2.2e-3,1.8e-3,1.4e-3,1.1e-3,9e-4,7e-4,5.5e-4,4.5e-4,2.8e-4],
[12.4,6e-3,5e-3,4e-3,3e-3,2.5e-3,2e-3,1.6e-3,1.3e-3,1e-3,8e-4,6e-4,5e-4],
[12.5,5.5e-3,4.5e-3,3.5e-3,2.8e-3,2.2e-3,1.8e-3,1.4e-3,1.1e-3,9e-4,7e-4,5.5e-4],
[12.6,4e-3,3e-3,2e-3,1.3e-3,8e-4,6e-4],
[12.7,6e-3,5e-3,4e-3,3e-3,2.5e-3,2e-3,1.6e-3,1.3e-3,1e-3,8e-4,6e-4,4e-4]
];

const panelLabels = ['{a|Si}{s|23}', '{a|[Si}{s|19}{a|P}{s|4}{a| ]Cl}{s|4}', '{a|Na}{s|4}{a|[Al}{s|4}{a| Si}{s|19}{a|]}'];
const panelLabelPos = [{right: 84, top: 40}, {right: 43, top: 306}, {right: 34, top: 572}];
const xTickValues = [0, 4, 8, 12];
const yTickExps = [0, -2, -4];
const yAxisName = '{a|Φ}{sub|3}{a| (eV/Å}{sup|3}{a|)}';
const xAxisName = '{a|d(0κ}{s|1}{a|;l}{s|2}{a|κ}{s|2}{a|;l}{s|3}{a|κ}{s|3}{a| ) (Å)}';

const cols = [si23Cols, si19p4Cols, na4Cols];
const toPoints = c => c.flatMap(col => col.slice(1).map(v => [col[0], v]));

const grids = [
  {left: 133, right: 12, top: 5, height: 258},
  {left: 133, right: 12, top: 267, height: 259},
  {left: 133, right: 12, top: 529, height: 258}
];
const axisCol = '#555';
const serif = 'Liberation Serif';
const sans = 'Liberation Sans';

const xAxes = [], yAxes = [], series = [], titles = [];
grids.forEach((g, i) => {
  const base = {
    gridIndex: i, type: 'value', min: 0, max: 14, interval: 2,
    axisLine: {show: true, onZero: false, lineStyle: {color: axisCol, width: 1}},
    axisTick: {show: true, inside: true, length: 4, lineStyle: {color: axisCol}},
    splitLine: {show: false}
  };
  xAxes.push(Object.assign({}, base, {
    position: 'bottom',
    axisLabel: {show: i === 2, margin: 12, fontFamily: sans, fontSize: 19, color: '#1a1a1a',
      formatter: v => xTickValues.includes(v) ? String(v) : ''},
    name: i === 2 ? xAxisName : '', nameLocation: 'middle', nameGap: 44,
    nameTextStyle: {rich: {
      a: {fontFamily: serif, fontSize: 21, color: '#1a1a1a'},
      s: {fontFamily: serif, fontSize: 14, color: '#1a1a1a', verticalAlign: 'bottom', padding: [8, 0, 0, 0]}
    }}
  }));
  xAxes.push(Object.assign({}, base, {position: 'top', axisLabel: {show: false}}));
  const ybase = {
    gridIndex: i, type: 'log', logBase: 10, min: 1e-5, max: 10, splitNumber: 6,
    axisLine: {show: true, onZero: false, lineStyle: {color: axisCol, width: 1}},
    axisTick: {show: true, inside: true, length: 5, lineStyle: {color: axisCol}},
    minorTick: {show: true, splitNumber: 9, length: 2.5, lineStyle: {color: axisCol}},
    splitLine: {show: false}, minorSplitLine: {show: false}
  };
  yAxes.push(Object.assign({}, ybase, {
    position: 'left',
    axisLabel: {show: true, margin: 14, color: '#1a1a1a',
      formatter: v => {
        const e = Math.round(Math.log10(v));
        if (!yTickExps.includes(e)) return '';
        return '{b|10}{s|' + (e < 0 ? '\u2212' + (-e) : String(e)) + '}';
      },
      rich: {
        b: {fontFamily: sans, fontSize: 22, color: '#1a1a1a', lineHeight: 26},
        s: {fontFamily: sans, fontSize: 14, color: '#1a1a1a', verticalAlign: 'top', lineHeight: 14, padding: [0, 0, 12, 0]}
      }
    },
    name: yAxisName, nameLocation: 'middle', nameRotate: 90, nameGap: 70,
    nameTextStyle: {rich: {
      a: {fontFamily: serif, fontSize: 22, color: '#1a1a1a'},
      sub: {fontFamily: serif, fontSize: 15, color: '#1a1a1a', padding: [10, 0, 0, 0]},
      sup: {fontFamily: serif, fontSize: 15, color: '#1a1a1a', padding: [0, 0, 12, 0]}
    }}
  }));
  yAxes.push(Object.assign({}, ybase, {position: 'right', axisLabel: {show: false}}));
  series.push({
    type: 'scatter', xAxisIndex: 2 * i, yAxisIndex: 2 * i,
    data: toPoints(cols[i]),
    symbol: 'circle', symbolSize: [6.5, 4.8],
    itemStyle: {color: 'rgba(0,0,0,0)', borderColor: '#111', borderWidth: 1.15, opacity: 1},
    silent: true, animation: false, progressive: 0, large: false
  });
  titles.push(Object.assign({
    text: panelLabels[i],
    textStyle: {fontWeight: 'normal', rich: {
      a: {fontFamily: serif, fontSize: 22, fontWeight: 'normal', color: '#1a1a1a'},
      s: {fontFamily: serif, fontSize: 15, fontWeight: 'normal', color: '#1a1a1a', padding: [10, 0, 0, 0]}
    }}
  }, panelLabelPos[i]));
});

const chart = echarts.init(document.getElementById('c'), null, {renderer: 'canvas'});
chart.setOption({
  backgroundColor: '#fff',
  animation: false,
  title: titles,
  grid: grids,
  xAxis: xAxes,
  yAxis: yAxes,
  series: series
});
</script>
</body></html>
